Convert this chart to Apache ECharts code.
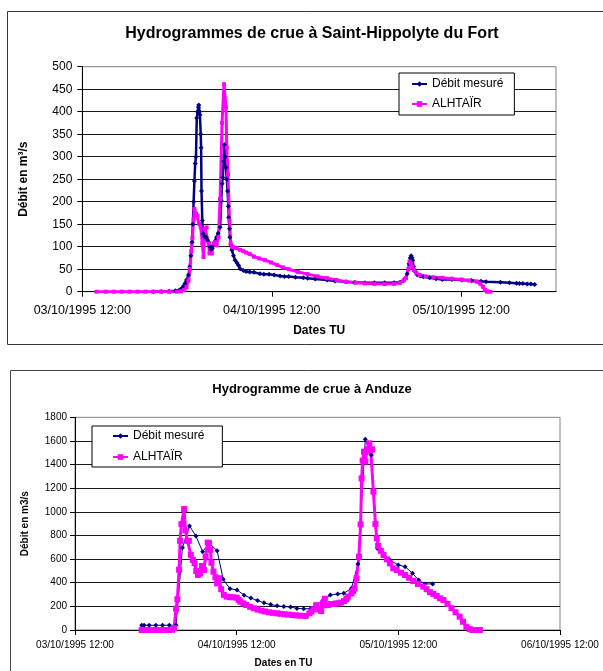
<!DOCTYPE html>
<html>
<head>
<meta charset="utf-8">
<script src="https://cdn.jsdelivr.net/npm/echarts@6/dist/echarts.min.js"></script>
<style>
  html, body { margin: 0; padding: 0; background: #fff; }
  #chart { width: 603px; height: 671px; }
</style>
</head>
<body>
<div id="chart"></div>
<script>
const FONT = '"Liberation Sans", Arial, sans-serif';

// x values are hours elapsed since 03/10/1995 12:00 (UT); one tick per day
const dateTickLabels = ['03/10/1995 12:00', '04/10/1995 12:00', '05/10/1995 12:00', '06/10/1995 12:00'];
const seriesNames = ['Débit mesuré', 'ALHTAÏR'];

// Saint-Hippolyte du Fort — measured discharge [hours, m3/s]
const shfMeasured = [
  [9,0],[10,0.5],[11,1],[11.8,2],[12.4,5],[12.8,12],[13,18],[13.2,26],[13.45,37],[13.6,55],
  [13.75,80],[13.9,110],[14,150],[14.1,200],[14.2,246],[14.3,285],[14.4,300],[14.5,386],[14.6,400],
  [14.7,410],[14.75,415],[14.85,400],[14.9,393],[15,350],[15.05,320],[15.1,224],[15.2,158],[15.3,129],
  [15.5,122],[15.7,121],[15.85,115],[16,110],[16.15,100],[16.3,93],[16.45,96],[16.6,103],[16.8,112],
  [17,121],[17.2,130],[17.45,143],[17.6,202],[17.7,240],[17.8,254],[17.9,290],[18,327],[18.1,300],
  [18.2,276],[18.3,250],[18.4,224],[18.5,190],[18.55,165],[18.65,140],[18.7,121],[18.8,105],[18.95,92],
  [19.15,80],[19.35,70],[19.6,64],[19.8,58],[20,51],[20.4,47],[20.75,45],[21.2,44],[21.75,43],[22.5,40],
  [23,39],[23.65,39],[24.3,37],[25.05,35],[25.6,34],[26.15,34],[27,32],[28,31],[28.55,30],[29.5,28],
  [31,26],[32,24],[33.4,22],[34.5,21],[35.8,20],[37,20],[38.3,20],[39.5,20],[40.25,21],[40.7,25],
  [40.9,30],[41.15,40],[41.4,62],[41.55,75],[41.65,80],[41.75,76],[41.85,70],[41.95,56],[42.15,45],
  [42.45,37],[42.8,35],[43.2,33],[44,31],[44.8,29],[45.6,27],[46.8,27],[48.05,26],[49.3,25],[50.5,23],
  [51.15,22],[52.95,21],[54.1,20],[55,19],[55.35,18.5],[55.8,18],[56.35,17],[56.8,17],[57.3,16]
];

// Saint-Hippolyte du Fort — ALHTAÏR simulation [hours, m3/s]
const shfAlhtair = [
  [1.8,0],[3,0],[4,0],[5,0],[6,0],[7,0],[8,0],[9,0],[10,0],[11,0],[12,0],[12.5,1],[12.9,4],[13.2,10],
  [13.45,25],[13.65,51],[13.8,90],[13.95,120],[14.1,160],[14.2,184],[14.4,173],[14.6,169],[14.8,151],
  [15,143],[15.2,107],[15.35,77],[15.55,140],[15.75,143],[16,107],[16.1,85],[16.4,85],[16.6,107],
  [16.8,110],[17,103],[17.25,121],[17.45,206],[17.7,375],[17.95,461],[18.2,410],[18.3,320],[18.45,261],
  [18.65,158],[18.8,107],[18.95,100],[19.1,99],[19.5,97],[20,93],[20.4,90],[20.75,87],[21.2,84],
  [21.75,78],[22.4,74],[23.15,70],[23.9,65],[24.7,59],[25.4,54],[26.15,50],[27.3,44],[28.55,39],
  [29.8,34],[31,30],[32.2,26],[33.4,22],[34.6,20],[35.8,18.5],[37,17.5],[38.3,17],[39.5,17.5],
  [40.25,20],[40.7,25],[41,30],[41.3,50],[41.45,67],[41.65,62],[41.8,55],[42,48],[42.3,42],[42.7,37],
  [43.5,34],[44.5,32],[45.6,31],[46.8,29],[48.05,27],[49,25],[50,22],[50.4,18],[50.75,11],[51,4],
  [51.25,0],[51.7,0]
];

// Anduze — measured discharge [hours, m3/s]
const anduzeMeasured = [
  [9.9,40],[10.25,40],[11,40],[12,40],[13,40],[14,40],[15,40],[15.95,697],[17,880],[17.95,795],
  [18.95,663],[19.93,734],[21.1,671],[22,429],[23,350],[24.05,339],[25.1,295],[26.1,270],[27.1,250],
  [28.05,230],[29.05,215],[30,205],[31,198],[32,195],[32.95,183],[33.95,180],[34.95,180],[35.9,212],
  [36.85,254],[37.9,296],[39,305],[39.9,310],[41.05,353],[42,559],[43.1,1614],[44,1480],[44.9,690],
  [45.8,649],[46.75,592],[48,550],[49,536],[50.1,480],[51,423],[51.95,390],[53.1,390]
];

// Anduze — ALHTAÏR simulation [hours, m3/s]
const anduzeAlhtair = [
  [9.9,0],[10.4,0],[10.9,0],[11.4,0],[11.9,0],[12.4,0],[12.9,0],[13.4,0],[13.9,0],[14.4,2],[14.7,15],
  [15,180],[15.2,260],[15.45,510],[15.6,755],[15.8,895],[16,897],[16.2,1024],[16.4,842],[16.7,754],
  [16.9,754],[17.2,636],[17.5,593],[17.75,565],[18,500],[18.25,466],[18.55,480],[18.85,542],[19.15,508],
  [19.4,621],[19.7,740],[19.9,735],[20.1,678],[20.25,570],[20.55,494],[20.85,446],[21.1,395],[21.4,438],
  [21.7,345],[22.1,297],[22.55,282],[23,278],[23.4,277],[24,274],[24.3,255],[24.55,240],[25,225],
  [25.4,212],[26,196],[26.55,184],[27.1,173],[27.7,164],[28.2,157],[28.8,150],[29.4,145],[30,141],
  [30.5,137],[31.1,133],[31.7,130],[32.25,127],[32.8,124],[33.4,121],[34.25,119],[34.8,141],[35.1,155],
  [35.4,175],[35.8,210],[36.25,175],[36.55,160],[36.8,226],[37.1,265],[37.25,210],[37.6,212],[38,220],
  [38.35,220],[38.7,224],[39.1,226],[39.5,232],[39.95,246],[40.3,262],[40.5,282],[41.05,310],[41.3,330],
  [41.5,353],[41.8,437],[42.15,620],[42.4,894],[42.55,1283],[42.7,1433],[42.9,1509],[43.1,1425],
  [43.3,1509],[43.5,1529],[43.7,1580],[43.9,1523],[44.1,1529],[44.3,1171],[44.6,897],[44.8,776],
  [45,711],[45.4,670],[45.8,635],[46.3,598],[46.75,564],[47.25,522],[47.75,508],[48.4,485],[49,465],
  [49.6,442],[50.2,415],[50.9,390],[51.7,367],[52.2,345],[52.7,320],[53.2,305],[53.7,288],[54.2,268],
  [54.7,254],[55.3,220],[55.9,184],[56.5,150],[57.1,113],[57.6,70],[58.1,28],[58.6,8],[59,0],[59.5,0],[60.1,0]
];

const NAVY = '#000080';
const MAGENTA = '#FF00FF';

function dateLabel(v) {
  return v % 24 === 0 ? (dateTickLabels[v / 24] || '') : '';
}

function dayTicks(max) {
  return dateTickLabels.map((_, i) => i * 24).filter(v => v <= max);
}

function xAxisFor(gridIndex, max, fontSize, margin, name, nameGap, nameFont, namePadding) {
  return {
    gridIndex, type: 'value', min: 0, max, interval: 24,
    axisLine: { show: true, onZero: false, lineStyle: { color: '#000', width: 1 } },
    axisTick: { show: true, length: 5, lineStyle: { color: '#000' }, customValues: dayTicks(max) },
    axisLabel: { color: '#000', fontFamily: FONT, fontSize, margin, formatter: dateLabel, customValues: dayTicks(max) },
    splitLine: { show: false },
    name, nameLocation: 'middle', nameGap,
    nameTextStyle: { color: '#000', fontFamily: FONT, fontWeight: 'bold', fontSize: nameFont, padding: namePadding }
  };
}

function yAxisFor(gridIndex, max, interval, fontSize, margin, name, nameGap, nameFont) {
  return {
    gridIndex, type: 'value', min: 0, max, interval,
    axisLine: { show: true, lineStyle: { color: '#000', width: 1 } },
    axisTick: { show: true, length: 5, lineStyle: { color: '#000' } },
    axisLabel: { color: '#000', fontFamily: FONT, fontSize, margin, formatter: v => String(v) },
    splitLine: { show: true, showMinLine: false, showMaxLine: false, lineStyle: { color: '#1a1a1a', width: 1 } },
    name, nameLocation: 'middle', nameGap,
    nameTextStyle: { color: '#000', fontFamily: FONT, fontWeight: 'bold', fontSize: nameFont }
  };
}

function lineSeries(name, xi, data, color, symbol, symbolSize, width) {
  return {
    name, type: 'line', xAxisIndex: xi, yAxisIndex: xi, data,
    symbol, symbolSize, showSymbol: true, showAllSymbol: true,
    lineStyle: { color, width }, itemStyle: { color },
    animation: false, emphasis: { disabled: true }
  };
}

function legendAt(left, top, padding, itemGap) {
  return {
    orient: 'vertical', left, top, padding, itemGap,
    itemWidth: 15, itemHeight: 7,
    data: seriesNames,
    backgroundColor: '#fff', borderColor: '#000', borderWidth: 1, borderRadius: 0,
    textStyle: { color: '#000', fontFamily: FONT, fontSize: 12, lineHeight: 14 },
    selectedMode: false
  };
}

const chart = echarts.init(document.getElementById('chart'), null, { renderer: 'canvas' });
chart.setOption({
  backgroundColor: '#fff',
  animation: false,
  graphic: [
    { type: 'rect', silent: true, shape: { x: 7.5, y: 11.5, width: 640, height: 333 },
      style: { fill: 'none', stroke: '#333', lineWidth: 1 } },
    { type: 'rect', silent: true, shape: { x: 10.5, y: 370.5, width: 640, height: 340 },
      style: { fill: 'none', stroke: '#444', lineWidth: 1 } }
  ],
  title: [
    { text: 'Hydrogrammes de crue à Saint-Hippolyte du Fort', left: 312, top: 26, textAlign: 'center', padding: 0,
      textStyle: { color: '#000', fontFamily: FONT, fontWeight: 'bold', fontSize: 16 } },
    { text: 'Hydrogramme de crue à Anduze', left: 312, top: 383, textAlign: 'center', padding: 0,
      textStyle: { color: '#000', fontFamily: FONT, fontWeight: 'bold', fontSize: 13 } }
  ],
  legend: [
    legendAt(399, 73, [4, 11, 4, 12], 6),
    legendAt(92, 426, [3, 18, 3, 20], 7)
  ],
  grid: [
    { left: 82.3, top: 66.7, width: 473.7, height: 225, show: true, backgroundColor: '#fff', borderColor: '#808080', borderWidth: 1 },
    { left: 75, top: 417.3, width: 485, height: 212.7, show: true, backgroundColor: '#fff', borderColor: '#808080', borderWidth: 1 }
  ],
  xAxis: [
    xAxisFor(0, 60, 12.5, 12, 'Dates TU', 33, 12, [0, 0, 0, 0]),
    xAxisFor(1, 72, 10, 10, 'Dates en TU', 28, 10, [0, 68, 0, 0])
  ],
  yAxis: [
    yAxisFor(0, 500, 50, 12, 10, 'Débit en m³/s', 53, 12),
    yAxisFor(1, 1800, 200, 10, 8, 'Débit en m3/s', 45, 10)
  ],
  series: [
    lineSeries(seriesNames[0], 0, shfMeasured, NAVY, 'diamond', 5, 2.5),
    lineSeries(seriesNames[1], 0, shfAlhtair, MAGENTA, 'rect', 4, 3),
    lineSeries(seriesNames[0], 1, anduzeMeasured, NAVY, 'diamond', 5, 1),
    lineSeries(seriesNames[1], 1, anduzeAlhtair, MAGENTA, 'rect', 6, 3)
  ]
});
</script>
</body>
</html>
